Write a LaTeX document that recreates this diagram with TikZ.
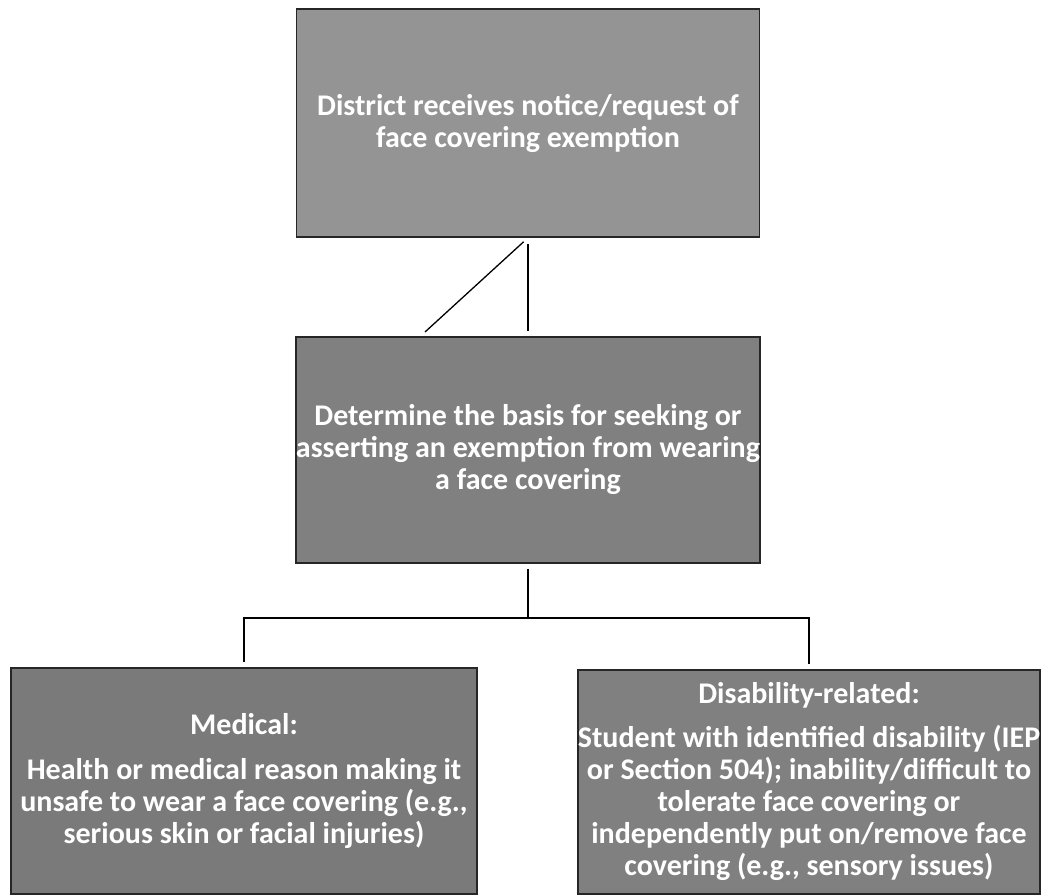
\documentclass[tikz,border=0pt]{standalone}
\usepackage{fontspec}
\setmainfont{Carlito}
\begin{document}
\begin{tikzpicture}[x=1pt, y=-1pt,
  box/.style={draw=black!85, line width=1.5pt, text=white, inner sep=0pt, align=center,
    font=\bfseries\fontsize{30}{32}\selectfont},
  link/.style={black, line width=1.3pt}]
  \useasboundingbox[fill=white] (0,0) rectangle (1043,894);
  \node[box, fill=black!42, minimum width=463pt, minimum height=228pt] (notice) at (528,123)
    {District receives notice/request of\\face covering exemption};
  \node[box, fill=black!50, minimum width=463pt, minimum height=226pt] (basis) at (528,450)
    {Determine the basis for seeking or\\asserting an exemption from wearing\\a face covering};
  \node[box, fill=black!52, minimum width=466pt, minimum height=226pt] (medical) at (244,781)
    {Medical:\\[13pt]Health or medical reason making it\\unsafe to wear a face covering (e.g.,\\serious skin or facial injuries)};
  \node[box, fill=black!50, minimum width=460pt, minimum height=224pt] (disability) at (809,782)
    {Disability-related:\\[12pt]Student with identified disability (IEP\\or Section 504); inability/difficult to\\tolerate face covering or\\independently put on/remove face\\covering (e.g., sensory issues)};
  \coordinate (diag) at (425,332);
  \coordinate (split) at (528,618);
  \draw[link, shorten <=6pt, shorten >=5pt] (notice.south) -- (basis.north);
  \draw[link, shorten <=6pt] (notice.south) -- (diag);
  \draw[link, shorten <=5pt] (basis.south) -- (split);
  \draw[link, shorten <=5pt] (medical.north) |- (split);
  \draw[link, shorten >=5pt] (split) -| (disability.north);
\end{tikzpicture}
\end{document}
